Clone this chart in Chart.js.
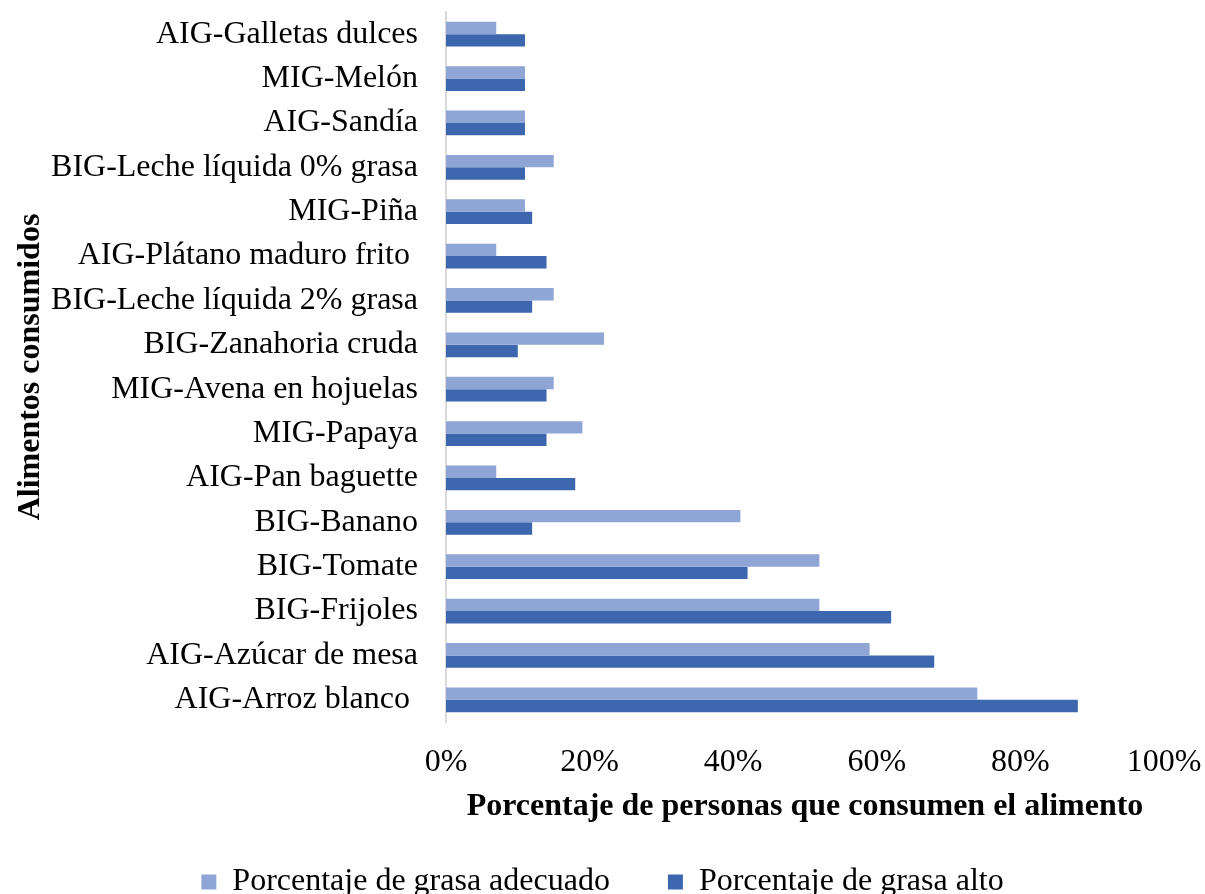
<!DOCTYPE html>
<html>
<head>
<meta charset="utf-8">
<script src="https://cdn.jsdelivr.net/npm/chart.js@4.4.0/dist/chart.umd.min.js"></script>
<style>
html,body{margin:0;padding:0;background:#fff;}
#wrap{width:1205px;height:894px;position:relative;}
</style>
</head>
<body>
<div id="wrap"><canvas id="c" width="1205" height="894"></canvas></div>
<script>
const categories = [
  "AIG-Galletas dulces",
  "MIG-Melón",
  "AIG-Sandía",
  "BIG-Leche líquida 0% grasa",
  "MIG-Piña",
  "AIG-Plátano maduro frito ",
  "BIG-Leche líquida 2% grasa",
  "BIG-Zanahoria cruda",
  "MIG-Avena en hojuelas",
  "MIG-Papaya",
  "AIG-Pan baguette",
  "BIG-Banano",
  "BIG-Tomate",
  "BIG-Frijoles",
  "AIG-Azúcar de mesa",
  "AIG-Arroz blanco "
];
const grasaAdecuado = [7, 11, 11, 15, 11, 7, 15, 22, 15, 19, 7, 41, 52, 52, 59, 74];
const grasaAlto     = [11, 11, 11, 11, 12, 14, 12, 10, 14, 14, 18, 12, 42, 62, 68, 88];
const seriesNames = ["Porcentaje de grasa adecuado", "Porcentaje de grasa alto"];
const xTitle = "Porcentaje de personas que consumen el alimento";
const yTitle = "Alimentos consumidos";

const FONT = "'Liberation Serif', 'Times New Roman', serif";

new Chart(document.getElementById('c'), {
  type: 'bar',
  data: {
    labels: categories,
    datasets: [
      { label: seriesNames[0], data: grasaAdecuado, backgroundColor: '#8FA5D6', borderWidth: 0,
        categoryPercentage: 0.56, barPercentage: 1.0 },
      { label: seriesNames[1], data: grasaAlto, backgroundColor: '#3C67AE', borderWidth: 0,
        categoryPercentage: 0.56, barPercentage: 1.0 }
    ]
  },
  options: {
    indexAxis: 'y',
    responsive: false,
    animation: false,
    devicePixelRatio: 1,
    layout: { padding: { left: 0, right: 0, top: 12, bottom: -14 } },
    plugins: {
      legend: {
        position: 'bottom',
        labels: {
          font: { family: FONT, size: 32 },
          color: '#000',
          boxWidth: 15, boxHeight: 15,
          padding: 58
        }
      },
      tooltip: { enabled: false }
    },
    scales: {
      x: {
        min: 0, max: 100,
        ticks: {
          stepSize: 20,
          callback: v => v + '%',
          font: { family: FONT, size: 32 },
          color: '#000',
          padding: 21
        },
        grid: { display: false, drawTicks: false },
        border: { display: false },
        title: {
          display: true, text: xTitle,
          font: { family: FONT, size: 32, weight: 'bold' },
          color: '#000',
          padding: { top: 0, bottom: -18 }
        },
        afterFit: s => { s.height = 86; s.paddingLeft = 0; s.paddingRight = 41; }
      },
      y: {
        ticks: {
          font: { family: FONT, size: 32 },
          color: '#000',
          padding: 28,
          autoSkip: false
        },
        grid: { display: false, drawTicks: false },
        border: { display: true, color: '#D9D9D9', width: 2 },
        title: {
          display: true, text: yTitle,
          font: { family: FONT, size: 32, weight: 'bold' },
          color: '#000',
          padding: { top: 12, bottom: 0 }
        },
        afterFit: s => { s.width = 446; s.paddingTop = 0; s.paddingBottom = 0; }
      }
    }
  }
});
</script>
</body>
</html>
